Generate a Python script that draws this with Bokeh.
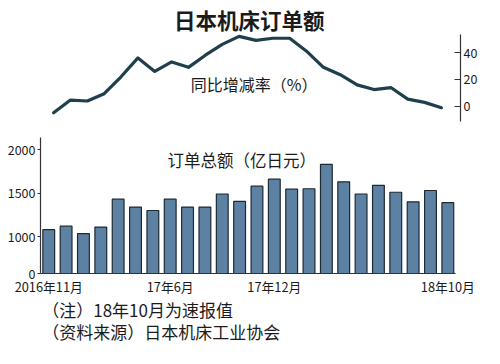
from bokeh.plotting import figure
from bokeh.layouts import column
from bokeh.models import (Range1d, LinearAxis, FixedTicker, Label, ColumnDataSource)
from bokeh.embed import file_html
from bokeh.resources import INLINE

# ---- data ----
months = ["2016年11月", "16年12月", "17年1月", "17年2月", "17年3月", "17年4月",
          "17年5月", "17年6月", "17年7月", "17年8月", "17年9月", "17年10月",
          "17年11月", "17年12月", "18年1月", "18年2月", "18年3月", "18年4月",
          "18年5月", "18年6月", "18年7月", "18年8月", "18年9月", "18年10月"]
orders = [1080, 1120, 1035, 1110, 1430, 1340, 1300, 1430, 1340, 1340, 1490, 1405,
          1580, 1660, 1545, 1550, 1830, 1630, 1490, 1590, 1510, 1400, 1530, 1390]
yoy = [-4.7, 4.7, 4.0, 9.4, 22, 36, 26, 33, 29, 38, 46, 52,
       49, 50.6, 50.6, 41, 29, 23.5, 16, 12.5, 14, 5.4, 3, -1]
shown_months = ["2016年11月", "17年6月", "17年12月", "18年10月"]
bar_ticks = [1000, 1500, 2000]
pct_ticks = [0, 20, 40]

title_text = "日本机床订单额"
line_label = "同比增减率（%）"
bar_label = "订单总额（亿日元）"
note1 = "（注）18年10月为速报值"
note2 = "（资料来源）日本机床工业协会"

FONT = "Noto Sans CJK SC"
TXT = "#1b1b1b"
BAR_FILL = "#5d81a3"
BAR_LINE = "#1c2a33"
LINE_COL = "#1e3f4b"

idx = list(range(len(months)))
base = 576  # visual baseline of the broken bar axis (labelled "0")

src = ColumnDataSource(dict(x=idx, top=orders, bottom=[base] * len(idx), yoy=yoy))

W = 484
p = figure(width=W, height=298, output_backend="svg", toolbar_location=None,
           x_range=Range1d(-0.475, 23.73), y_range=Range1d(base, 3714),
           min_border_left=40, min_border_right=24, min_border_top=0,
           min_border_bottom=22, x_axis_location=None, y_axis_location=None)
p.grid.visible = False
p.outline_line_color = None
p.background_fill_color = "white"
p.border_fill_color = "white"

p.extra_y_ranges = {"pct": Range1d(-124.0, 78.6)}
p.extra_x_ranges = {"lx": Range1d(-0.777, 24.13)}

p.vbar(x="x", top="top", bottom="bottom", width=0.68, source=src,
       fill_color=BAR_FILL, line_color=BAR_LINE, line_width=1.2)
p.line(x="x", y="yoy", source=src, x_range_name="lx", y_range_name="pct",
       line_color=LINE_COL, line_width=3.2, line_join="round", line_cap="round")

def style_axis(ax, size="12.5px"):
    ax.major_label_text_font = FONT
    ax.major_label_text_font_size = size
    ax.major_label_text_color = TXT
    ax.axis_line_color = "#333333"
    ax.axis_line_width = 1.2
    ax.major_tick_line_color = "#333333"
    ax.minor_tick_line_color = None

# left axis (orders)
la = LinearAxis(ticker=FixedTicker(ticks=[base] + bar_ticks),
                major_label_overrides={base: "0"}, bounds=(base, 2140))
style_axis(la)
la.major_tick_out = 3
la.major_tick_in = 0
la.major_label_standoff = 2
p.add_layout(la, "left")

# right axis (yoy %)
ra = LinearAxis(y_range_name="pct", ticker=FixedTicker(ticks=pct_ticks), bounds=(-11, 53))
style_axis(ra)
ra.major_tick_in = 6
ra.major_tick_out = 0
ra.major_label_standoff = 3
p.add_layout(ra, "right")

# bottom axis (months)
tick_pos = [months.index(m) for m in shown_months]
ba = LinearAxis(ticker=FixedTicker(ticks=tick_pos),
                major_label_overrides={i: months[i] for i in tick_pos},
                bounds=(-0.475, 23.45))
style_axis(ba, "12.8px")
ba.major_tick_in = 0
ba.major_tick_out = 0
ba.major_label_standoff = 3
p.add_layout(ba, "below")

def lab(fig, x, y, text, size, bold=False, align="center"):
    fig.add_layout(Label(x=x, y=y, text=text, text_font=FONT, text_font_size=size,
                         text_font_style="bold" if bold else "normal",
                         text_align=align, text_baseline="middle", text_color=TXT))

lab(p, 11.56, 3490, title_text, "21.5px", bold=True)
lab(p, 11.84, 2757, line_label, "16px")
lab(p, 11.12, 1880, bar_label, "16.5px")

# notes strip below the chart
q = figure(width=W, height=50, output_backend="svg", toolbar_location=None,
           x_range=Range1d(0, W), y_range=Range1d(0, 50),
           min_border=0, x_axis_location=None, y_axis_location=None)
q.grid.visible = False
q.outline_line_color = None
q.border_fill_color = "white"
lab(q, 2, 39.2, note1, "17px", align="left")
lab(q, 2, 17.2, note2, "17px", align="left")

layout = column(p, q, spacing=0)
open("out.html", "w").write(file_html(layout, INLINE))
